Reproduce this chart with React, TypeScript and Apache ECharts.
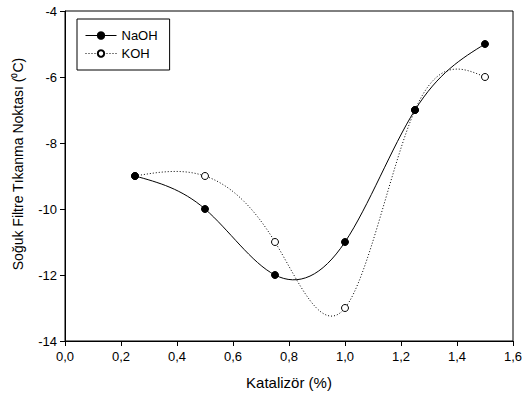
import React, { useEffect, useRef } from "react";
import * as echarts from "echarts";

const xNaOH = [0.25, 0.5, 0.75, 1.0, 1.25, 1.5];
const yNaOH = [-9, -10, -12, -11, -7, -5];
const xKOH = [0.25, 0.5, 0.75, 1.0, 1.25, 1.5];
const yKOH = [-9, -9, -11, -13, -7, -6];

const FONT = "Liberation Sans, Arial, sans-serif";

// natural cubic spline derivatives at nodes
function splineSlopes(xs: number[], ys: number[]): number[] {
  const n = xs.length;
  const h: number[] = [];
  for (let i = 0; i < n - 1; i++) h.push(xs[i + 1] - xs[i]);
  const M = new Array(n).fill(0);
  if (n > 2) {
    const a: number[] = [], b: number[] = [], c: number[] = [], d: number[] = [];
    for (let i = 1; i < n - 1; i++) {
      a.push(h[i - 1]);
      b.push(2 * (h[i - 1] + h[i]));
      c.push(h[i]);
      d.push(6 * ((ys[i + 1] - ys[i]) / h[i] - (ys[i] - ys[i - 1]) / h[i - 1]));
    }
    const m = b.length;
    for (let i = 1; i < m; i++) {
      const w = a[i] / b[i - 1];
      b[i] -= w * c[i - 1];
      d[i] -= w * d[i - 1];
    }
    const sol = new Array(m).fill(0);
    sol[m - 1] = d[m - 1] / b[m - 1];
    for (let i = m - 2; i >= 0; i--) sol[i] = (d[i] - c[i] * sol[i + 1]) / b[i];
    for (let i = 0; i < m; i++) M[i + 1] = sol[i];
  }
  const s: number[] = [];
  for (let i = 0; i < n - 1; i++) {
    s.push((ys[i + 1] - ys[i]) / h[i] - (h[i] * (2 * M[i] + M[i + 1])) / 6);
  }
  const k = n - 2;
  s.push((ys[k + 1] - ys[k]) / h[k] + (h[k] * (M[k] + 2 * M[k + 1])) / 6);
  return s;
}

function curveSeries(name: string, xs: number[], ys: number[], dash: number[] | null) {
  const slopes = splineSlopes(xs, ys);
  return {
    name,
    type: "custom",
    silent: true,
    z: 1,
    data: xs.map((x, i) => [x, ys[i]]),
    renderItem: (params: any, api: any) => {
      if (params.dataIndex !== 0) return null;
      const P = (x: number, y: number) => api.coord([x, y]);
      const p0 = P(xs[0], ys[0]);
      let d = `M${p0[0]},${p0[1]}`;
      for (let i = 0; i < xs.length - 1; i++) {
        const h = xs[i + 1] - xs[i];
        const c1 = P(xs[i] + h / 3, ys[i] + (slopes[i] * h) / 3);
        const c2 = P(xs[i + 1] - h / 3, ys[i + 1] - (slopes[i + 1] * h) / 3);
        const e = P(xs[i + 1], ys[i + 1]);
        d += ` C${c1[0]},${c1[1]} ${c2[0]},${c2[1]} ${e[0]},${e[1]}`;
      }
      return {
        type: "path",
        shape: { pathData: d },
        style: {
          fill: "none",
          stroke: "#000",
          lineWidth: 1,
          lineDash: dash || undefined,
        },
      };
    },
  };
}

export default function App() {
  const ref = useRef<HTMLDivElement>(null);
  useEffect(() => {
    document.body.style.margin = "0";
    const chart = echarts.init(ref.current!, null, { renderer: "svg" });
    chart.setOption({
      animation: false,
      backgroundColor: "#ffffff",
      grid: { left: 65, right: 16, top: 11, bottom: 57, show: true, borderColor: "#000", borderWidth: 1 },
      legend: {
        left: 77,
        top: 19,
        orient: "vertical",
        padding: [9, 12, 9, 8],
        itemWidth: 31,
        itemHeight: 8,
        itemGap: 3,
        borderColor: "#000",
        borderWidth: 1,
        borderRadius: 0,
        textStyle: { fontFamily: FONT, fontSize: 13, color: "#000", lineHeight: 15 },
        data: [
          { name: "NaOH", lineStyle: { opacity: 1, color: "#000", width: 1, type: "solid" } },
          { name: "KOH", lineStyle: { opacity: 1, color: "#000", width: 1, type: [1, 2] } },
        ],
      },
      graphic: [
        {
          type: "text",
          x: 18,
          y: 164,
          rotation: Math.PI / 2,
          style: {
            text: "Soğuk Filtre Tıkanma Noktası (⁰C)",
            fontFamily: FONT,
            fontSize: 14,
            fill: "#000",
            align: "center",
            verticalAlign: "middle",
          },
        },
      ],
      xAxis: {
        type: "value",
        min: 0,
        max: 1.6,
        interval: 0.2,
        name: "Katalizör (%)",
        nameLocation: "middle",
        nameGap: 34,
        nameTextStyle: { fontFamily: FONT, fontSize: 15, color: "#000" },
        axisLine: { lineStyle: { color: "#000", width: 1 } },
        axisTick: { inside: false, length: 5, lineStyle: { color: "#000" } },
        axisLabel: {
          fontFamily: FONT,
          fontSize: 13,
          color: "#000",
          margin: 9,
          formatter: (v: number) => v.toFixed(1).replace(".", ","),
        },
        splitLine: { show: false },
      },
      yAxis: {
        type: "value",
        min: -14,
        max: -4,
        interval: 2,
        axisLine: { show: true, lineStyle: { color: "#000", width: 1 } },
        axisTick: { show: true, inside: false, length: 5, lineStyle: { color: "#000" } },
        axisLabel: { fontFamily: FONT, fontSize: 13, color: "#000", margin: 8 },
        splitLine: { show: false },
      },
      series: [
        curveSeries("NaOH curve", xNaOH, yNaOH, null),
        curveSeries("KOH curve", xKOH, yKOH, [1, 2]),
        {
          name: "NaOH",
          type: "line",
          data: xNaOH.map((x, i) => [x, yNaOH[i]]),
          symbol: "circle",
          symbolSize: 7,
          itemStyle: { color: "#000", borderColor: "#000", borderWidth: 1 },
          lineStyle: { color: "#000", width: 1, opacity: 0 },
          z: 4,
        },
        {
          name: "KOH",
          type: "line",
          data: xKOH.map((x, i) => [x, yKOH[i]]),
          symbol: "circle",
          symbolSize: 7,
          itemStyle: { color: "#fff", borderColor: "#000", borderWidth: 1 },
          lineStyle: { color: "#000", width: 1, opacity: 0 },
          z: 3,
        },
      ],
    });
    return () => chart.dispose();
  }, []);
  return <div ref={ref} style={{ width: 529, height: 398 }} />;
}
